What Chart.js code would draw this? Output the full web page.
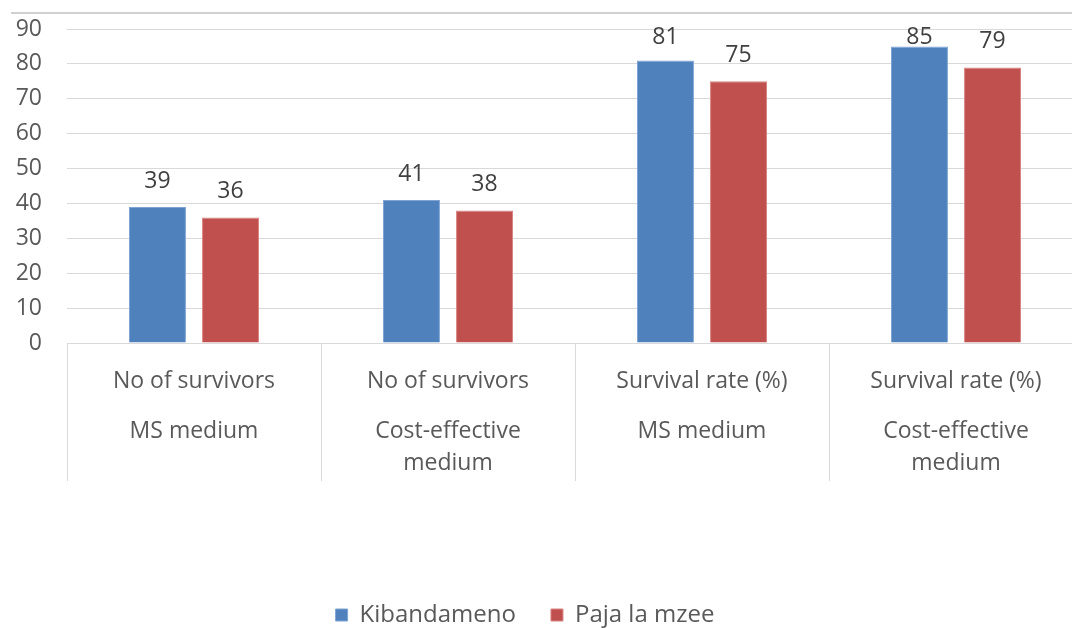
<!DOCTYPE html>
<html>
<head>
<meta charset="utf-8">
<script src="https://cdn.jsdelivr.net/npm/chart.js@4/dist/chart.umd.min.js"></script>
<style>
  html, body { margin: 0; padding: 0; background: #ffffff; overflow: hidden; }
  #wrap { position: relative; width: 1072px; height: 628px; overflow: hidden; }
  #frame { position: absolute; left: 11px; top: 12px; right: 0; height: 2px; background: #d0d0d0; }
  canvas { display: block; }
</style>
</head>
<body>
<div id="wrap">
  <div id="frame"></div>
  <canvas id="survivalChart" width="1083" height="628"></canvas>
</div>
<script>
// Datos del gráfico
const measures = ['No of survivors', 'No of survivors', 'Survival rate (%)', 'Survival rate (%)'];
const media = ['MS medium', ['Cost-effective', 'medium'], 'MS medium', ['Cost-effective', 'medium']];
const kibandameno = [39, 41, 81, 85];
const pajaLaMzee = [36, 38, 75, 79];

const textColor = '#595959';
const fontFamily = '"Open Sans", sans-serif';

// Etiquetas de valor sobre las barras
const valueLabels = {
    id: 'valueLabels',
    afterDatasetsDraw(chart) {
        const ctx = chart.ctx;
        ctx.save();
        ctx.font = '23px ' + fontFamily;
        ctx.fillStyle = '#404040';
        ctx.textAlign = 'center';
        ctx.textBaseline = 'alphabetic';
        chart.data.datasets.forEach((ds, i) => {
            chart.getDatasetMeta(i).data.forEach((bar, j) => {
                const y = Math.max(bar.y - 19, 44);
                ctx.fillText(String(ds.data[j]), bar.x, y);
            });
        });
        ctx.restore();
    }
};

// Líneas divisorias entre categorías
const dividers = {
    id: 'dividers',
    afterDraw(chart) {
        const x = chart.scales.x;
        const ctx = chart.ctx;
        ctx.save();
        ctx.strokeStyle = '#d9d9d9';
        ctx.lineWidth = 1;
        for (let i = 0; i <= measures.length; i++) {
            const px = Math.round(x.getPixelForValue(i - 0.5)) + 0.5;
            ctx.beginPath();
            ctx.moveTo(px, chart.chartArea.bottom);
            ctx.lineTo(px, chart.chartArea.bottom + 138);
            ctx.stroke();
        }
        ctx.restore();
    }
};

const ctx = document.getElementById('survivalChart');
new Chart(ctx, {
    type: 'bar',
    data: {
        labels: measures,
        datasets: [{
            label: 'Kibandameno',
            data: kibandameno,
            backgroundColor: '#4f81bd',
            borderColor: '#7fa4d3',
            borderWidth: 1,
            categoryPercentage: 0.575,
            barPercentage: 0.78
        }, {
            label: 'Paja la mzee',
            data: pajaLaMzee,
            backgroundColor: '#c0504d',
            borderColor: '#d88482',
            borderWidth: 1,
            categoryPercentage: 0.575,
            barPercentage: 0.78
        }]
    },
    options: {
        responsive: false,
        animation: false,
        layout: { padding: { top: 29, left: -33, right: 0, bottom: 0 } },
        plugins: {
            tooltip: { enabled: false },
            legend: {
                position: 'bottom',
                maxHeight: 60,
                labels: {
                    boxWidth: 12,
                    boxHeight: 12,
                    padding: 35,
                    color: textColor,
                    font: { family: fontFamily, size: 24 }
                }
            }
        },
        scales: {
            y: {
                min: 0,
                max: 90,
                ticks: { stepSize: 10, padding: 0, color: textColor, font: { family: fontFamily, size: 23 } },
                grid: { color: '#d9d9d9', drawTicks: true, tickLength: 25, tickColor: 'rgba(0,0,0,0)' },
                border: { display: false },
                afterFit(scale) { scale.width = 100; }
            },
            x: {
                grid: { display: false },
                border: { display: true, color: '#d9d9d9' },
                ticks: { padding: 17, color: textColor, font: { family: fontFamily, size: 23 }, maxRotation: 0, autoSkip: false },
                afterFit(scale) { scale.height = 58; }
            },
            x2: {
                type: 'category',
                position: 'bottom',
                labels: media,
                offset: true,
                grid: { display: false, drawTicks: false },
                border: { display: false },
                ticks: { padding: 14, color: textColor, font: { family: fontFamily, size: 23, lineHeight: '32px' }, maxRotation: 0, autoSkip: false },
                afterFit(scale) { scale.height = 167; }
            }
        }
    },
    plugins: [valueLabels, dividers]
});
</script>
</body>
</html>
